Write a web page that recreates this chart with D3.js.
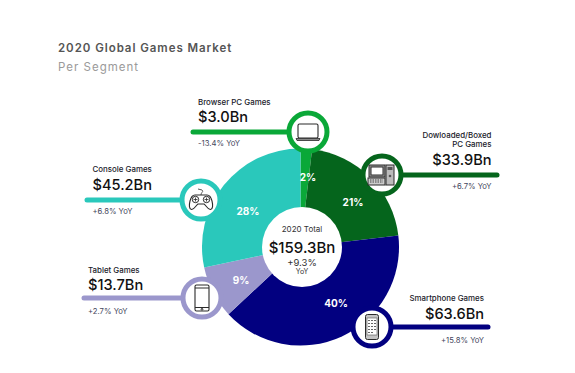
<!DOCTYPE html>
<html><head><meta charset="utf-8">
<script src="https://cdn.jsdelivr.net/npm/d3@7/dist/d3.min.js"></script>
<style>html,body{margin:0;background:#fff}svg{display:block}text{font-family:Inter,"Open Sans",sans-serif}</style>
</head><body><svg width="575" height="373"></svg>
<script>
const segments = ["Browser PC Games","Dowloaded/Boxed PC Games","Smartphone Games","Tablet Games","Console Games"];
const revenue = [3.0,33.9,63.6,13.7,45.2];
const shares = ["2%","21%","40%","9%","28%"];
const growth = ["-13.4%","+6.7%","+15.8%","+2.7%","+6.8%"];
const colors = ["#0aa838","#05651c","#020080","#9b97cc","#2ac8bb"];
const totalLabel = "$159.3Bn";
const totalGrowth = "+9.3%";

const svg = d3.select("svg");
const cx = 300.5, cy = 247, R = 98.5, r0 = 40;
const ringCenters = [[308,132],[382,175],[372,327],[202,298],[201,200]];
const lineEnds = [193,497,488,84,87];
const titleLines = [["Browser PC Games"],["Dowloaded/Boxed","PC Games"],["Smartphone Games"],["Tablet Games"],["Console Games"]];
const labelPos = [
 {x:198,a:"start",name:[105],val:122,yoy:146},
 {x:491.5,a:"end",name:[137.5,147],val:165,yoy:189},
 {x:484,a:"end",name:[301],val:319,yoy:343},
 {x:88,a:"start",name:[273],val:290,yoy:314},
 {x:92.5,a:"start",name:[172],val:190,yoy:214}];
const pctPos = [[308,181],[353,206],[336,307],[241,284],[248,215]];

svg.append("text").attr("x",58).attr("y",52).attr("font-size",11.5).attr("font-weight",600).attr("letter-spacing",.95).attr("fill","#555").text("2020 Global Games Market");
svg.append("text").attr("x",58).attr("y",71).attr("font-size",11.5).attr("letter-spacing",1).attr("fill","#9a9a9a").text("Per Segment");

const pie = d3.pie().sort(null).value(d=>d)(revenue);
const arc = d3.arc().innerRadius(0).outerRadius(R);
const g = svg.append("g").attr("transform",`translate(${cx},${cy})`);
g.selectAll("path").data(pie).join("path").attr("d",arc).attr("fill",(d,i)=>colors[i]);

// leader lines and rings
revenue.forEach((v,i)=>{
  const [x,y]=ringCenters[i];
  svg.append("line").attr("x1",lineEnds[i]).attr("x2",x).attr("y1",y).attr("y2",y)
    .attr("stroke",colors[i]).attr("stroke-width",5).attr("stroke-linecap","round");
  svg.append("circle").attr("cx",x).attr("cy",y).attr("r",19).attr("fill","#fff").attr("stroke",colors[i]).attr("stroke-width",5);
});

// icons
const ink="#2b2b2b";
function icon(i){
  const [x,y]=ringCenters[i];
  return svg.append("g").attr("transform",`translate(${x},${y})`).attr("fill","none").attr("stroke",ink).attr("stroke-width",1);
}
let ic=icon(0);
ic.append("rect").attr("x",-10).attr("y",-8).attr("width",20).attr("height",14).attr("rx",1.5).attr("stroke-width",1.1);
ic.append("path").attr("d","M-12,6.5H12L11,8.5H-11Z").attr("fill","#888").attr("stroke-width",.8);
ic=icon(1);
ic.append("rect").attr("x",-13).attr("y",-10).attr("width",16).attr("height",12).attr("fill","#999");
ic.append("rect").attr("x",-11).attr("y",-8).attr("width",12).attr("height",8).attr("fill","#fff");
ic.append("rect").attr("x",4).attr("y",-10).attr("width",8).attr("height",20).attr("fill","#bbb");
ic.append("rect").attr("x",5.5).attr("y",-8).attr("width",5).attr("height",3).attr("fill","#555").attr("stroke","none");
ic.append("circle").attr("cx",8).attr("cy",1).attr("r",1.3).attr("fill","#555").attr("stroke","none");
ic.append("rect").attr("x",-14).attr("y",3).attr("width",17).attr("height",7).attr("fill","#ccc");
ic.append("path").attr("d","M-12,5H1M-12,7H1").attr("stroke","#444").attr("stroke-dasharray","1.5 1");
ic=icon(2);
ic.append("rect").attr("x",-6.5).attr("y",-12.5).attr("width",13).attr("height",25).attr("rx",2).attr("fill","#c4c4c4").attr("stroke-width",1);
ic.append("rect").attr("x",-5).attr("y",-9).attr("width",10).attr("height",17).attr("fill","#fff").attr("stroke","#555").attr("stroke-width",.6);
ic.append("path").attr("d","M-4,-6.5H4M-4,-3.5H4M-4,-.5H4M-4,2.5H4M-4,5.5H1").attr("stroke","#666").attr("stroke-dasharray","2 1");
ic=icon(3);
ic.append("rect").attr("x",-7).attr("y",-13).attr("width",14).attr("height",26).attr("rx",1.5).attr("stroke-width",1.1);
ic.append("path").attr("d","M-7,-10H7M-7,9.5H7");
ic.append("circle").attr("cx",0).attr("cy",11.3).attr("r",.9);
ic=icon(4);
ic.append("path").attr("d","M-6,-5H6C9,-5 10,-3 11,1C12,5 12,9 9.5,9.5C7,10 5,5 3,4H-3C-5,5 -7,10 -9.5,9.5C-12,9 -12,5 -11,1C-10,-3 -9,-5 -6,-5Z").attr("stroke-width",1.1);
ic.append("circle").attr("cx",-5.5).attr("cy",-.5).attr("r",3.2);
ic.append("circle").attr("cx",5.5).attr("cy",-.5).attr("r",3.2);
ic.append("path").attr("d","M-7.5,-.5H-3.5M-5.5,-2.5V1.5M3.5,-.5H7.5M5.5,-2.5V1.5").attr("stroke-width",.8);
ic.append("path").attr("d","M0,-5C0,-8 3,-8 1,-10L-3,-11").attr("stroke-width",.8);

// labels
revenue.forEach((v,i)=>{
  const p=labelPos[i];
  titleLines[i].forEach((t,k)=>svg.append("text").attr("x",p.x).attr("y",p.name[k]).attr("text-anchor",p.a)
    .attr("font-size",7.9).attr("font-weight",500).attr("fill","#1a1a2a").text(t));
  svg.append("text").attr("x",p.x).attr("y",p.val).attr("text-anchor",p.a).attr("font-size",14.6).attr("font-weight",500).attr("fill","#111").text("$"+v.toFixed(1)+"Bn");
  svg.append("text").attr("x",p.x).attr("y",p.yoy).attr("text-anchor",p.a).attr("font-size",7.7).attr("fill","#44465c").text(growth[i]+" YoY");
  svg.append("text").attr("x",pctPos[i][0]).attr("y",pctPos[i][1]).attr("text-anchor","middle").attr("font-size",10).attr("font-weight",700).attr("fill","#fff").text(shares[i]);
});

// centre
svg.append("circle").attr("cx",302).attr("cy",cy).attr("r",r0).attr("fill","#fff");
const c=(t,y,s,w,f)=>svg.append("text").attr("x",302).attr("y",y).attr("text-anchor","middle").attr("font-size",s).attr("font-weight",w).attr("fill",f).text(t);
c("2020 Total",232,8,400,"#333");
c(totalLabel,252.5,15,500,"#111");
c(totalGrowth,266,9.5,400,"#333");
c("YoY",274,7,400,"#333");
</script></body></html>
